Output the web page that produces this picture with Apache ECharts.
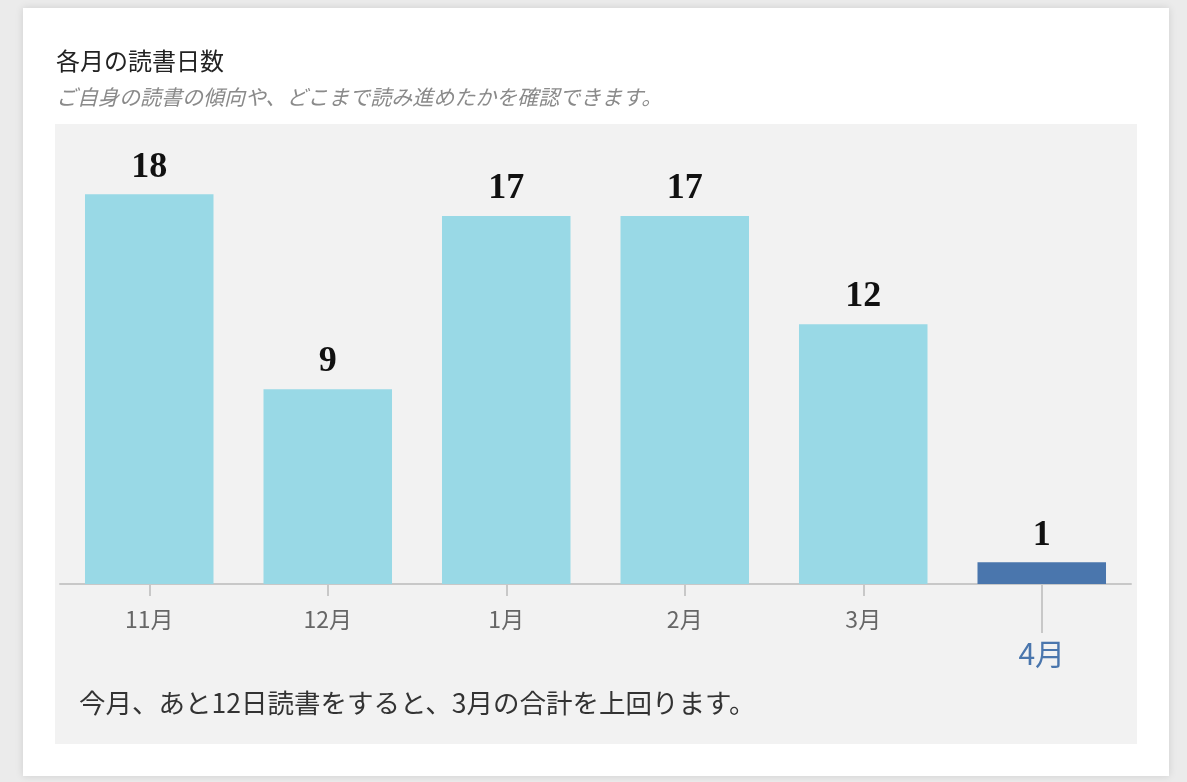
<!DOCTYPE html>
<html lang="ja">
<head>
<meta charset="utf-8">
<title>各月の読書日数</title>
<script src="https://cdn.jsdelivr.net/npm/echarts@6/dist/echarts.min.js"></script>
<style>
  html, body { margin: 0; padding: 0; background: #ebebeb; }
  #chart { width: 1187px; height: 782px; }
</style>
</head>
<body>
<div id="chart"></div>
<script>
// Data
const months = ['11月', '12月', '1月', '2月', '3月', '4月'];
const readingDays = [18, 9, 17, 17, 12, 1];
const currentIndex = 5;

const titleText = '各月の読書日数';
const subText = 'ご自身の読書の傾向や、どこまで読み進めたかを確認できます。';
const noteText = '今月、あと12日読書をすると、3月の合計を上回ります。';

const jpFont = '"Noto Sans CJK JP", "Noto Sans", sans-serif';

document.addEventListener('DOMContentLoaded', () => {
    const chart = echarts.init(document.getElementById('chart'));

    chart.setOption({
        backgroundColor: '#ebebeb',
        animation: false,
        graphic: [
            // white card
            {
                type: 'rect', z: -10,
                shape: { x: 23, y: 8, width: 1146, height: 768 },
                style: { fill: '#fff', shadowBlur: 8, shadowColor: 'rgba(0,0,0,0.12)' }
            },
            // grey panel
            {
                type: 'rect', z: -9,
                shape: { x: 55, y: 124, width: 1082, height: 620 },
                style: { fill: '#f2f2f2' }
            },
            {
                type: 'text', left: 79, top: 690,
                style: { text: noteText, font: '26.5px ' + jpFont, fill: '#333' }
            }
        ],
        title: [
            {
                text: titleText, left: 51, top: 44,
                textStyle: { fontFamily: jpFont, fontSize: 24, fontWeight: 'normal', color: '#222' }
            },
            {
                text: subText, left: 51, top: 82,
                textStyle: { fontFamily: jpFont, fontSize: 21, fontWeight: 'normal', fontStyle: 'italic', color: '#8a8a8a' }
            }
        ],
        grid: { left: 60, right: 56, top: 151, bottom: 198 },
        xAxis: [
            {
                type: 'category',
                data: months,
                position: 'bottom',
                axisLine: { show: true, lineStyle: { color: '#c8c8c8', width: 2 } },
                axisTick: { show: true, interval: 0, alignWithLabel: true, length: 12, lineStyle: { color: '#c8c8c8', width: 2 } },
                axisLabel: {
                    interval: (i) => i !== currentIndex,
                    margin: 24,
                    fontFamily: jpFont, fontSize: 23, color: '#666'
                }
            },
            {
                type: 'category',
                data: months,
                position: 'bottom',
                axisLine: { show: false },
                axisTick: {
                    show: true,
                    alignWithLabel: true,
                    interval: (i) => i === currentIndex,
                    length: 49,
                    lineStyle: { color: '#c8c8c8', width: 2 }
                },
                axisLabel: {
                    interval: (i) => i === currentIndex,
                    margin: 55,
                    fontFamily: jpFont, fontSize: 30, color: '#4a76ad'
                }
            }
        ],
        yAxis: {
            type: 'value',
            min: 0, max: 20,
            show: false,
            splitLine: { show: false }
        },
        series: [{
            type: 'bar',
            xAxisIndex: 0,
            barWidth: '72%',
            data: readingDays.map((v, i) => ({
                value: v,
                itemStyle: { color: i === currentIndex ? '#4a76ad' : '#99d9e6' }
            })),
            label: {
                show: true,
                position: 'top',
                distance: 9,
                fontFamily: '"Liberation Serif", "DejaVu Serif", serif',
                fontWeight: 'bold',
                fontSize: 36,
                color: '#111'
            }
        }]
    });

    window.addEventListener('resize', () => chart.resize());
});
</script>
</body>
</html>
